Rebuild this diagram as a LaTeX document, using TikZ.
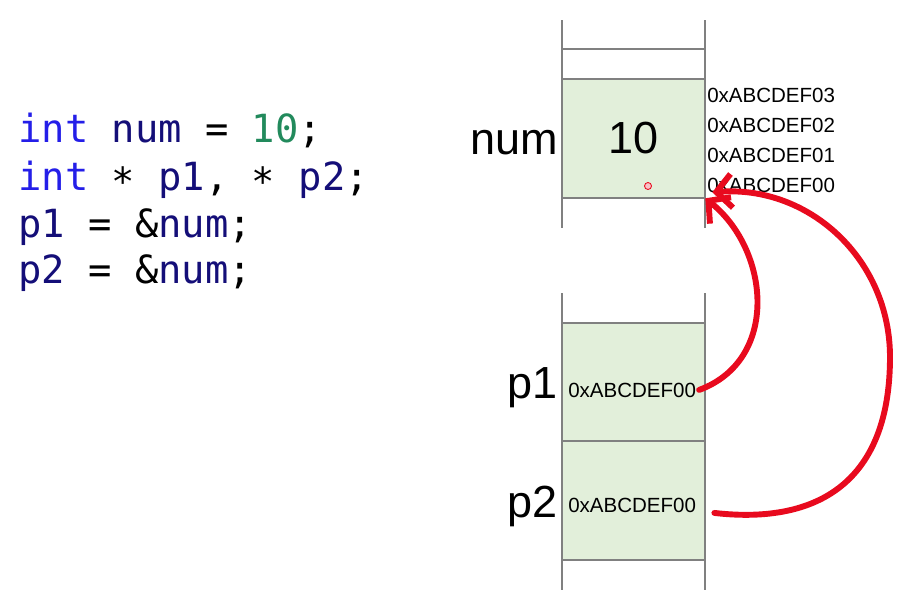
\documentclass[tikz,border=0pt]{standalone}
\usepackage{fontspec}
\setmainfont{Liberation Sans}
\newfontfamily\codefont{DejaVu Sans Mono}
\usetikzlibrary{arrows.meta}
\definecolor{Cellgreen}{RGB}{226,239,218}
\definecolor{Linegray}{RGB}{128,128,128}
\definecolor{Kwblue}{RGB}{36,30,232}
\definecolor{Idnavy}{RGB}{20,14,120}
\definecolor{Numgreen}{RGB}{34,138,92}
\definecolor{Penred}{RGB}{232,10,30}
\tikzset{
  cell/.style={fill=Cellgreen,minimum width=3.575cm,minimum height=2.975cm,inner sep=0pt},
  memline/.style={Linegray,line width=0.8pt},
  big/.style={font=\fontsize{32}{32}\selectfont,inner sep=0pt},
  addr/.style={font=\fontsize{14.6}{14.6}\selectfont,inner sep=0pt},
  code/.style={font=\codefont\fontsize{27.6}{27.6}\selectfont,anchor=base west,inner sep=0pt},
  pen/.style={Penred,line width=4.2pt,line cap=round,-{Straight Barb[length=11pt,width=24pt]}}
}
\newcommand{\kw}[1]{{\color{Kwblue}#1}}
\newcommand{\id}[1]{{\color{Idnavy}#1}}

\begin{document}
\begin{tikzpicture}[x=0.025cm,y=-0.025cm]
  \useasboundingbox (0,0) rectangle (904,598);
  % code
  \node[code] (code1) at (18,142) {\kw{int} \id{num} = {\color{Numgreen}10};};
  \node[code] (code2) at (18,190) {\kw{int} \raisebox{-0.15em}{*} \id{p1}, \raisebox{-0.15em}{*} \id{p2};};
  \node[code] (code3) at (18,237) {\id{p1} = \&\id{num};};
  \node[code] (code4) at (18,283) {\id{p2} = \&\id{num};};
  % memory
  \node[cell] (numcell) at (633.5,138.5) {};
  \node[cell] (p1cell) at (633.5,382) {};
  \node[cell] (p2cell) at (633.5,500.5) {};
  \draw[memline] (562,20)--(562,228) (705,20)--(705,228);
  \draw[memline] (562,293)--(562,590) (705,293)--(705,590);
  \foreach \y in {49,79,198,323,441,560}
    \draw[memline] (562,\y)--(705,\y);
  \node[big] at (numcell) {10};
  \node[big,anchor=base east] (numlbl) at (558,154) {num};
  \node[big,anchor=base east] (p1lbl) at (558,398) {p1};
  \node[big,anchor=base east] (p2lbl) at (558,517) {p2};
  \foreach \i/\y in {03/102,02/132,01/162,00/192}
    \node[addr,anchor=base west] (a\i) at (707,\y) {0xABCDEF\i};
  \node[addr,anchor=base west] (p1val) at (568,397) {0xABCDEF00};
  \node[addr,anchor=base west] (p2val) at (568,512) {0xABCDEF00};
  \node[circle,fill=Penred!25,draw=Penred,line width=0.6pt,minimum size=5pt,inner sep=0pt] (dot) at (648,186) {};
  % arrows
  \draw[pen] ([xshift=2pt]p1val.east) .. controls (780,360) and (770,250) .. (numcell.south east);
  \draw[pen] ([shift={(18,8)}]p2val.east) .. controls (820,525) and (890,480) .. (890,357)
    .. controls (890,260) and (810,185) .. ([shift={(7,-6)}]numcell.south east);
\end{tikzpicture}
\end{document}
